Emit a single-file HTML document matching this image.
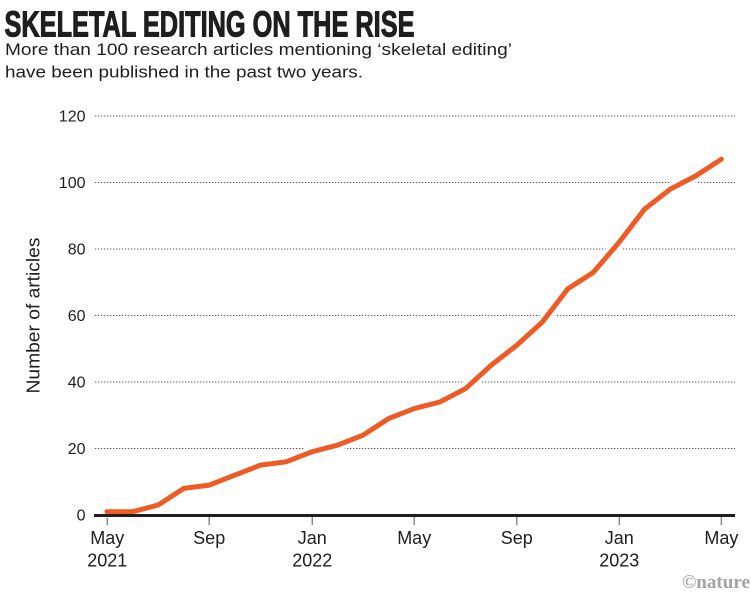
<!DOCTYPE html>
<html>
<head>
<meta charset="utf-8">
<style>
  html,body{margin:0;padding:0;background:#fff;}
  svg{display:block;}
  text{font-family:"Liberation Sans",sans-serif;fill:#1f1d1e;}
</style>
</head>
<body>
<svg width="751" height="599" viewBox="0 0 751 599" xmlns="http://www.w3.org/2000/svg">
  <!-- Title -->
  <text x="4.5" y="36.5" font-size="36" font-weight="bold" stroke="#1f1d1e" stroke-width="1.1" textLength="410" lengthAdjust="spacingAndGlyphs">SKELETAL EDITING ON THE RISE</text>
  <!-- Subtitle -->
  <text x="5" y="55" font-size="17" textLength="507" lengthAdjust="spacingAndGlyphs">More than 100 research articles mentioning ‘skeletal editing’</text>
  <text x="5" y="77.5" font-size="17" textLength="358" lengthAdjust="spacingAndGlyphs">have been published in the past two years.</text>

  <!-- Gridlines -->
  <g stroke="#555" stroke-width="1" stroke-dasharray="1.3 1.7">
    <line x1="95" y1="116" x2="735" y2="116"/>
    <line x1="95" y1="182.5" x2="735" y2="182.5"/>
    <line x1="95" y1="249" x2="735" y2="249"/>
    <line x1="95" y1="315.5" x2="735" y2="315.5"/>
    <line x1="95" y1="382" x2="735" y2="382"/>
    <line x1="95" y1="448.5" x2="735" y2="448.5"/>
  </g>

  <!-- Y tick labels -->
  <g font-size="16" text-anchor="end">
    <text x="85.5" y="121.7">120</text>
    <text x="85.5" y="188.2">100</text>
    <text x="85.5" y="254.7">80</text>
    <text x="85.5" y="321.2">60</text>
    <text x="85.5" y="387.7">40</text>
    <text x="85.5" y="454.2">20</text>
    <text x="85.5" y="520.7">0</text>
  </g>

  <!-- Y axis title -->
  <text transform="translate(39.5,315.5) rotate(-90)" font-size="18" text-anchor="middle" textLength="156" lengthAdjust="spacingAndGlyphs">Number of articles</text>

  <!-- X ticks -->
  <g stroke="#8a8a8a" stroke-width="1.5">
    <line x1="107.3" y1="516" x2="107.3" y2="525"/>
    <line x1="209.2" y1="516" x2="209.2" y2="525"/>
    <line x1="312.3" y1="516" x2="312.3" y2="525"/>
    <line x1="414.2" y1="516" x2="414.2" y2="525"/>
    <line x1="516.8" y1="516" x2="516.8" y2="525"/>
    <line x1="619.3" y1="516" x2="619.3" y2="525"/>
    <line x1="721.4" y1="516" x2="721.4" y2="525"/>
  </g>

  <!-- X labels -->
  <g font-size="18" text-anchor="middle">
    <text x="107.3" y="544">May</text>
    <text x="107.3" y="566.5">2021</text>
    <text x="209.2" y="544">Sep</text>
    <text x="312.3" y="544">Jan</text>
    <text x="312.3" y="566.5">2022</text>
    <text x="414.2" y="544">May</text>
    <text x="516.8" y="544">Sep</text>
    <text x="619.3" y="544">Jan</text>
    <text x="619.3" y="566.5">2023</text>
    <text x="721.4" y="544">May</text>
  </g>

  <!-- Series -->
  <g fill="none" stroke-linejoin="round" stroke-linecap="round">
    <polyline stroke="#ffffff" stroke-width="12"
      points="107,511.7 132.6,511.7 158.2,505 183.8,488.4 209.4,485.1 235,475.1 260.6,465.1 286.2,461.8 311.8,451.8 337.4,445.2 363,435.2 388.6,418.6 414.2,408.6 439.8,402 465.4,388.7 491,365.4 516.6,345.4 542.2,322.2 567.8,288.9 593.4,272.3 619,242.4 644.6,209.1 670.2,189.2 695.8,175.9 721.4,159.2"/>
    <polyline stroke="#ee5b24" stroke-width="5"
      points="107,511.7 132.6,511.7 158.2,505 183.8,488.4 209.4,485.1 235,475.1 260.6,465.1 286.2,461.8 311.8,451.8 337.4,445.2 363,435.2 388.6,418.6 414.2,408.6 439.8,402 465.4,388.7 491,365.4 516.6,345.4 542.2,322.2 567.8,288.9 593.4,272.3 619,242.4 644.6,209.1 670.2,189.2 695.8,175.9 721.4,159.2"/>
  </g>

  <!-- Axis baseline (drawn above series halo) -->
  <line x1="94" y1="515.5" x2="735" y2="515.5" stroke="#1f1d1e" stroke-width="3"/>

  <!-- Credit -->
  <text x="682" y="588" font-size="19" font-weight="bold" style="font-family:'Liberation Serif',serif;fill:#a3a3a3" textLength="68" lengthAdjust="spacingAndGlyphs">©nature</text>
</svg>
</body>
</html>
